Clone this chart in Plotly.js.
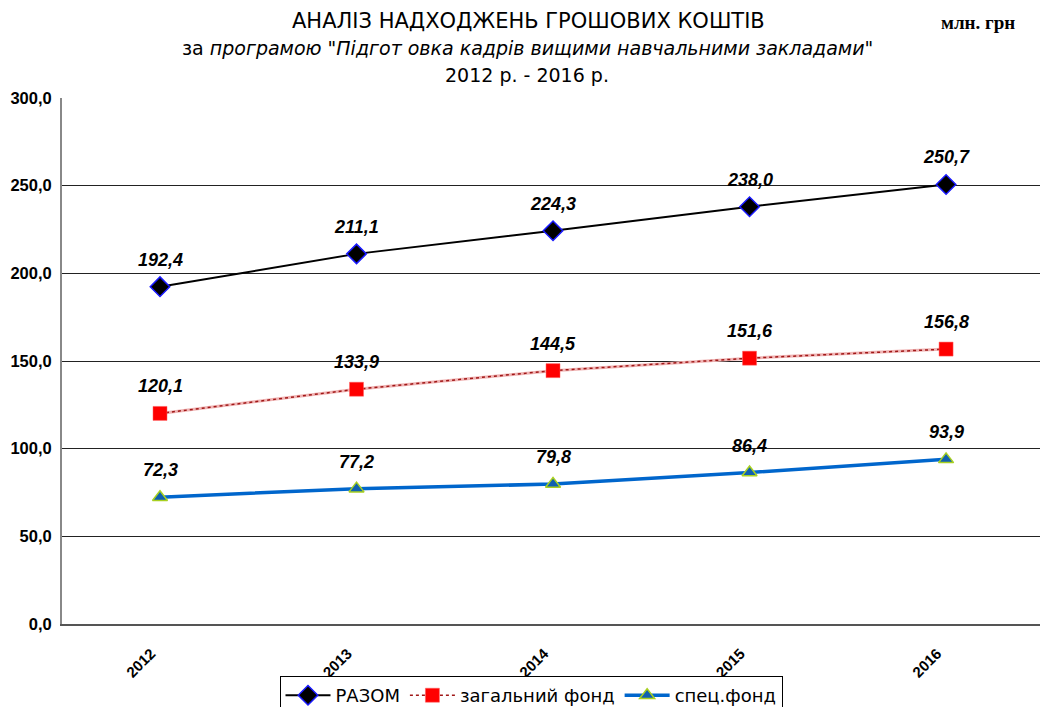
<!DOCTYPE html>
<html><head><meta charset="utf-8">
<script src="https://cdn.plot.ly/plotly-3.0.1.min.js"></script>
<style>html,body{margin:0;padding:0;background:#fff}#chart{width:1040px;height:707px}</style>
</head><body><div id="chart"></div>
<script>
const years = ['2012','2013','2014','2015','2016'];
const razom = [192.4, 211.1, 224.3, 238.0, 250.7];
const zagalnyi = [120.1, 133.9, 144.5, 151.6, 156.8];
const spets = [72.3, 77.2, 79.8, 86.4, 93.9];
const seriesNames = ['РАЗОМ', 'загальний фонд', 'спец.фонд'];

const fmt = v => v.toFixed(1).replace('.', ',');
const narrowFont = (size, extra) => Object.assign({family: '"DejaVu Sans", sans-serif', stretch: 'condensed', size: size, color: '#000'}, extra || {});
const arial = '"Liberation Sans", Arial, sans-serif';
const PT = 98, PB = 624, PH = PB - PT;
const py = p => (PB - p) / PH;   // pixel row -> paper y

const traces = [
  {x: years, y: zagalnyi, type: 'scatter', mode: 'lines', showlegend: false, hoverinfo: 'skip',
   line: {color: '#f0b4b4', width: 3}},
  {x: years, y: razom, name: seriesNames[0], type: 'scatter', mode: 'lines+markers',
   line: {color: '#000000', width: 2},
   marker: {symbol: 'diamond', size: 15, color: '#000000', line: {color: '#1a1aff', width: 1.5}}},
  {x: years, y: zagalnyi, name: seriesNames[1], type: 'scatter', mode: 'lines+markers',
   line: {color: '#a01818', width: 1.5, dash: 'dot'},
   marker: {symbol: 'square', size: 14, color: '#ff0000', line: {color: '#ff6060', width: 0.5}}},
  {x: years, y: spets, name: seriesNames[2], type: 'scatter', mode: 'lines+markers',
   line: {color: '#0066cc', width: 3.5},
   marker: {symbol: 'triangle-up', size: 13, color: '#1060b0', line: {color: '#a8d020', width: 1.5}}}
];

const annotations = [];
[razom, zagalnyi, spets].forEach(arr => {
  arr.forEach((v, i) => {
    annotations.push({x: i, y: v, xref: 'x', yref: 'y', text: '<b><i>' + fmt(v) + '</i></b>',
      showarrow: false, yshift: 27, font: {family: arial, size: 18, color: '#000'}});
  });
});

annotations.push(
  {xref: 'paper', yref: 'paper', x: (528 - 62) / 978, y: py(21), yanchor: 'middle', xanchor: 'center',
   showarrow: false, text: 'АНАЛІЗ НАДХОДЖЕНЬ ГРОШОВИХ КОШТІВ',
   font: narrowFont(21, {weight: 500})},
  {xref: 'paper', yref: 'paper', x: (527 - 62) / 978, y: py(48), yanchor: 'middle', xanchor: 'center',
   showarrow: false, text: 'за <i>програмою "Підгот овка кадрів вищими навчальними закладами"</i>',
   font: narrowFont(19)},
  {xref: 'paper', yref: 'paper', x: (527 - 62) / 978, y: py(75), yanchor: 'middle', xanchor: 'center',
   showarrow: false, text: '2012 р. - 2016 р.',
   font: narrowFont(19)},
  {xref: 'paper', yref: 'paper', x: (978 - 62) / 978, y: py(23), yanchor: 'middle', xanchor: 'center',
   showarrow: false, text: '<b>млн. грн</b>',
   font: {family: '"Liberation Serif", "Times New Roman", serif', size: 19, color: '#000'}}
);

const layout = {
  width: 1040, height: 707,
  margin: {l: 62, r: 0, t: 98, b: 83},
  paper_bgcolor: '#fff', plot_bgcolor: '#fff',
  separators: ', ',
  showlegend: true,
  xaxis: {type: 'category', range: [-0.4987, 4.478], showgrid: false, zeroline: false,
    showline: true, linecolor: '#555', linewidth: 2, ticks: '', tickangle: -45,
    ticklabelstandoff: 13, ticklabelshift: -9,
    tickfont: {family: arial, size: 15, color: '#000', weight: 'bold'}},
  yaxis: {range: [0, 300], dtick: 50, tickformat: '.1f', showgrid: true, gridcolor: '#222', gridwidth: 1,
    zeroline: false, showline: true, linecolor: '#888', linewidth: 2, ticks: '', ticklabelstandoff: 5,
    tickfont: {family: arial, size: 16.5, color: '#000', weight: 'bold'}},
  legend: {orientation: 'h', xref: 'container', yref: 'container', x: 531 / 1040, y: 1 - 676 / 707,
    xanchor: 'center', yanchor: 'top', bordercolor: '#000', borderwidth: 1, bgcolor: '#fff',
    font: narrowFont(18), itemwidth: 45, tracegroupgap: 0},
  annotations: annotations
};

Plotly.newPlot('chart', traces, layout, {displayModeBar: false, staticPlot: true});
</script></body></html>
